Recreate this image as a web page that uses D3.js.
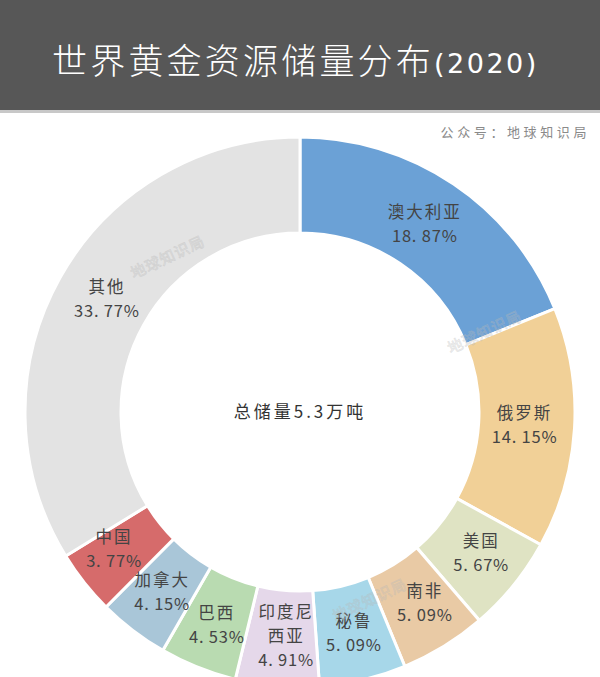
<!DOCTYPE html>
<html><head><meta charset="utf-8">
<script src="https://cdn.jsdelivr.net/npm/d3@7"></script>
<style>
html,body{margin:0;padding:0;background:#fff;}
svg{display:block;font-family:"Noto Sans CJK SC","Noto Sans",sans-serif;}
</style></head>
<body><svg id="c" width="600" height="677"></svg>
<script>
const categories = ["澳大利亚","俄罗斯","美国","南非","秘鲁","印度尼西亚","巴西","加拿大","中国","其他"];
const labelLines = [["澳大利亚"],["俄罗斯"],["美国"],["南非"],["秘鲁"],["印度尼","西亚"],["巴西"],["加拿大"],["中国"],["其他"]];
const values = [18.87,14.15,5.67,5.09,5.09,4.91,4.53,4.15,3.77,33.77];
const colors = ["#6ba1d6","#f1d097","#dfe3c3","#e9caa5","#a7d7e9","#e5d8ea","#b9dbb1","#a9c6d8","#d66b6b","#e3e3e3"];
const title = "世界黄金资源储量分布";
const titleYear = "(2020)";
const source = "公众号：地球知识局";
const centerText = "总储量5.3万吨";

const svg = d3.select("#c");
const W = 600, H = 677;

// header
svg.append("rect").attr("x",0).attr("y",0).attr("width",W).attr("height",110).attr("fill","#575757");
svg.append("rect").attr("x",0).attr("y",110).attr("width",W).attr("height",3).attr("fill","#c8c8c8");
const t = svg.append("text").attr("x",52).attr("y",74).attr("fill","#fff");
t.append("tspan").attr("font-size",35).attr("font-weight",300).attr("letter-spacing",3.2).text(title);
t.append("tspan").attr("font-size",27).attr("letter-spacing",2.5).attr("font-family","'DejaVu Sans','Noto Sans',sans-serif").attr("dy",-1).text(titleYear);

svg.append("text").attr("x",590).attr("y",137).attr("text-anchor","end")
  .attr("font-size",13).attr("letter-spacing",3.6).attr("fill","#8a8a8a").text(source);

// donut
const cx = 300, cy = 412, rOut = 275, rIn = 179;
const g = svg.append("g").attr("transform",`translate(${cx},${cy})`);
const pie = d3.pie().sort(null).value(d=>d);
const arcs = pie(values);
const arc = d3.arc().innerRadius(rIn).outerRadius(rOut);
g.selectAll("path.s").data(arcs).join("path").attr("class","s")
  .attr("d",arc).attr("fill",(d,i)=>colors[i]).attr("stroke","#fff").attr("stroke-width",3);

// watermarks
const wm = [[170,262],[487,337],[372,605]];
wm.forEach(([x,y])=>{
  svg.append("text").attr("transform",`translate(${x},${y}) rotate(-25)`).attr("text-anchor","middle")
   .attr("font-size",15).attr("fill","none").attr("stroke","#b8b8b8").attr("stroke-opacity",0.4).attr("stroke-width",0.8)
   .attr("letter-spacing",1).text("地球知识局");
});

// labels
const labArc = d3.arc().innerRadius((rIn+rOut)/2).outerRadius((rIn+rOut)/2);
const lh = 24;
const nudge = [[-2,0],[-2,0],[5,-2],[6,-2],[2,0],[5,-2],[1,2],[0,0],[-8,-4],[5,-2]];
arcs.forEach((d,i)=>{
  let [x,y] = labArc.centroid(d);
  x += nudge[i][0]; y += nudge[i][1];
  const lines = labelLines[i].concat([values[i].toFixed(2).replace(".",". ")+"%"]);
  const n = lines.length;
  const txt = g.append("text").attr("text-anchor","middle").attr("font-size",16.5).attr("fill","#444");
  lines.forEach((s,k)=>{
    txt.append("tspan").attr("x",x).attr("y",y + (k-(n-1)/2)*lh + 6)
      .attr("letter-spacing", k===n-1 ? 0.8 : 2).text(s);
  });
});

g.append("text").attr("text-anchor","middle").attr("y",6).attr("font-size",17).attr("fill","#333")
  .attr("letter-spacing",3).text(centerText);
</script></body></html>
